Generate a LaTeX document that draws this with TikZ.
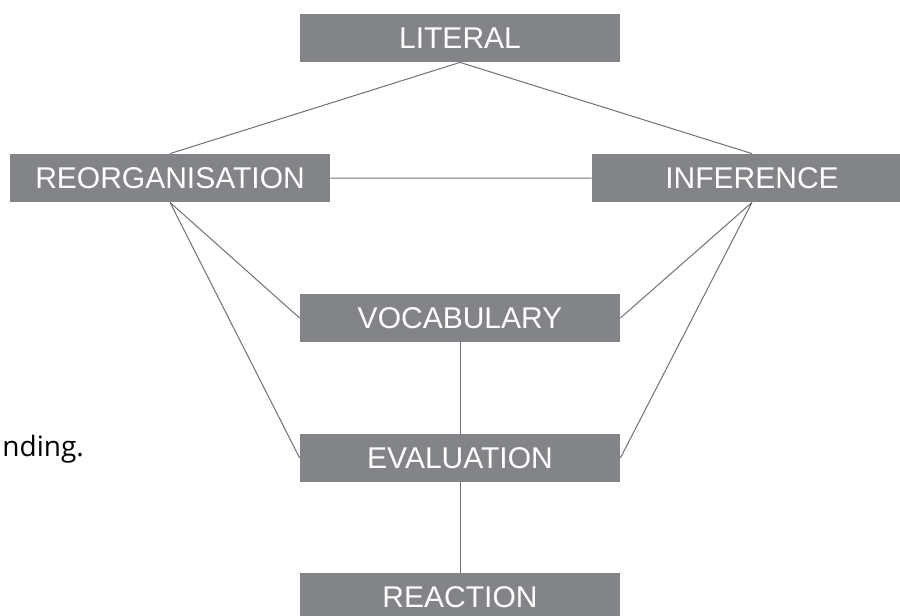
\documentclass[tikz,border=0pt]{standalone}
\usepackage{fontspec}
\setmainfont{Liberation Sans}
\newfontfamily\notefont{Open Sans}
\usetikzlibrary{positioning,calc}
\definecolor{boxgray}{RGB}{131,132,136}
\definecolor{linegray}{RGB}{112,112,112}
\tikzset{level/.style={fill=boxgray,text=white,minimum width=160pt,minimum height=24pt,inner sep=0pt,font=\fontsize{15}{17}\selectfont},
link/.style={draw=linegray,line width=0.5pt}}
\begin{document}
\begin{tikzpicture}[x=0.5pt,y=-0.5pt, line join=round]
\useasboundingbox (0,0) rectangle (900,616);
\clip (0,0) rectangle (900,616);
\node[level] (L)  at (460,38)  {LITERAL};
\node[level] (RO) at (170,178) {REORGANISATION};
\node[level] (IN) at (752,178) {INFERENCE};
\node[level] (V)  at (460,318) {VOCABULARY};
\node[level] (E)  at (460,458) {EVALUATION};
\node[level] (RE) at (460,597) {REACTION};
\node[anchor=base west,inner sep=0pt,font=\notefont\fontsize{14}{16}\selectfont] (note) at (2,456) {nding.};
\draw[link] (L.south)--(RO.north) (L.south)--(IN.north) (RO.east)--(IN.west);
\draw[link] (RO.south)--(V.west) (RO.south)--(E.west) (IN.south)--(V.east) (IN.south)--(E.east);
\draw[link] (V.south)--(E.north) (E.south)--(RE.north);
\end{tikzpicture}
\end{document}
